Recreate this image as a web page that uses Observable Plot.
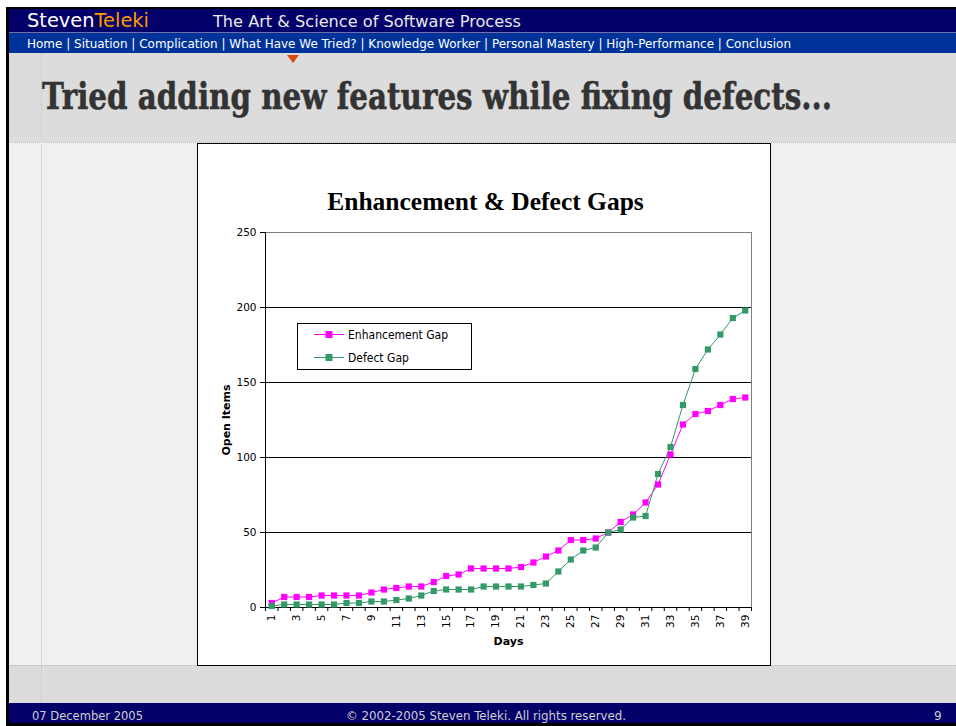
<!DOCTYPE html>
<html><head><meta charset="utf-8">
<script src="https://cdn.jsdelivr.net/npm/d3@7"></script>
<script src="https://cdn.jsdelivr.net/npm/@observablehq/plot@0.6"></script>
<style>
body{margin:0;width:956px;height:726px;background:#fff;position:relative;overflow:hidden;font-family:"DejaVu Sans",sans-serif}
.abs{position:absolute}
</style></head><body>
<div class="abs" style="left:6px;top:7px;width:950px;height:719px;background:#000"></div>
<div class="abs" style="left:9px;top:9px;width:947px;height:23px;background:#03006a"></div>
<div class="abs" style="left:9px;top:32px;width:947px;height:1px;background:#6f6fae"></div>
<div class="abs" style="left:9px;top:33px;width:947px;height:20px;background:#003399"></div>
<div class="abs" style="left:9px;top:53px;width:947px;height:89px;background:#dcdcdc"></div>
<div class="abs" style="left:9px;top:142px;width:947px;height:523px;background:#f0f0f0;border-top:1px dotted #b8b8b8;box-sizing:border-box"></div>
<div class="abs" style="left:9px;top:665px;width:947px;height:38px;background:#dcdcdc;border-top:1px dotted #b8b8b8;box-sizing:border-box"></div>
<div class="abs" style="left:9px;top:703px;width:947px;height:20px;background:#03006a"></div>
<div class="abs" style="left:41px;top:53px;width:0;height:650px;border-left:1px dotted #c4c4c4"></div>
<div class="abs" style="left:197px;top:143px;width:574px;height:523px;background:#fff;border:1px solid #000;box-sizing:border-box"></div>
<div id="chart" class="abs" style="left:197px;top:143px"></div>
<div id="legend" class="abs" style="left:297px;top:323px;width:175px;height:47px;background:#fff;border:1px solid #000;box-sizing:border-box"></div>
<svg class="abs" style="left:0;top:0" width="956" height="726">
  <text x="27" y="27" font-family="DejaVu Sans" font-size="19" textLength="122" lengthAdjust="spacingAndGlyphs"><tspan fill="#ffffff">Steven</tspan><tspan fill="#ff9900">Teleki</tspan></text>
  <text x="213" y="27" font-family="DejaVu Sans" font-size="16" fill="#e8e8e8" textLength="308" lengthAdjust="spacingAndGlyphs">The Art &amp; Science of Software Process</text>
  <text x="27" y="48" font-family="DejaVu Sans" font-size="12" fill="#ffffff" textLength="764" lengthAdjust="spacingAndGlyphs">Home | Situation | Complication | What Have We Tried? | Knowledge Worker | Personal Mastery | High-Performance | Conclusion</text>
  <polygon points="287,55 299,55 293,63" fill="#d94a10"/>
  <text x="42" y="109" font-family="DejaVu Serif" font-weight="bold" font-size="37" fill="#333333" stroke="#333333" stroke-width="0.6" textLength="790" lengthAdjust="spacingAndGlyphs">Tried adding new features while fixing defects...</text>
  <text x="32" y="720" font-family="DejaVu Sans" font-size="12" fill="#cfcfcf" textLength="111" lengthAdjust="spacingAndGlyphs">07 December 2005</text>
  <text x="346" y="720" font-family="DejaVu Sans" font-size="12" fill="#cfcfcf" textLength="280" lengthAdjust="spacingAndGlyphs">© 2002-2005 Steven Teleki. All rights reserved.</text>
  <text x="934" y="720" font-family="DejaVu Sans" font-size="12" fill="#cfcfcf">9</text>
</svg>
<script>
const chartTitle = "Enhancement & Defect Gaps";
const xLabel = "Days";
const yLabel = "Open Items";
const days = [1,2,3,4,5,6,7,8,9,10,11,12,13,14,15,16,17,18,19,20,21,22,23,24,25,26,27,28,29,30,31,32,33,34,35,36,37,38,39];
const xTickLabels = [1,3,5,7,9,11,13,15,17,19,21,23,25,27,29,31,33,35,37,39];
const yTicks = [0,50,100,150,200,250];
const seriesNames = ["Enhancement Gap","Defect Gap"];
const seriesColors = ["#ff00ff","#339966"];
const enhancementGap = [3,7,7,7,8,8,8,8,10,12,13,14,14,17,21,22,26,26,26,26,27,30,34,38,45,45,46,50,57,62,70,82,102,122,129,131,135,139,140];
const defectGap = [1,2,2,2,2,2,3,3,4,4,5,6,8,11,12,12,12,14,14,14,14,15,16,24,32,38,40,50,52,60,61,89,107,135,159,172,182,193,198];

const rows = [];
days.forEach((d,i)=>{
  rows.push({day:d, value:enhancementGap[i], series:seriesNames[0]});
  rows.push({day:d, value:defectGap[i], series:seriesNames[1]});
});
const boundaries = [days[0]-0.5, ...days.map(d=>d+0.5)];
const xDomain = [boundaries[0], boundaries[boundaries.length-1]];
const yMax = yTicks[yTicks.length-1];

const chart = Plot.plot({
  width: 574, height: 523,
  marginLeft: 68, marginRight: 20, marginTop: 89, marginBottom: 59,
  style: {fontFamily:"DejaVu Sans", fontSize:"10.5px", color:"#000", background:"transparent", overflow:"visible"},
  x: {type:"linear", domain: xDomain},
  y: {domain:[0, yMax]},
  color: {domain: seriesNames, range: seriesColors},
  marks: [
    Plot.ruleY(yTicks.slice(1,-1), {stroke:"#000"}),
    Plot.ruleY([yMax], {stroke:"#808080"}),
    Plot.ruleX([xDomain[1]], {stroke:"#808080"}),
    Plot.axisY({ticks: yTicks, tickSize:5, tickPadding:4, label:null}),
    Plot.axisX({ticks: boundaries, tickSize:4, tickFormat:()=>"", label:null}),
    Plot.axisX({ticks: xTickLabels, tickSize:0, tickPadding:7, tickRotate:-90, label:null}),
    Plot.ruleX([xDomain[0]], {stroke:"#000"}),
    Plot.ruleY([0], {stroke:"#000"}),
    Plot.line(rows, {x:"day", y:"value", z:"series", stroke:"series", strokeWidth:1}),
    Plot.dot(rows, {x:"day", y:"value", fill:"series", symbol:"square", r:3.5}),
    Plot.text([yLabel], {frameAnchor:"left", textAnchor:"middle", lineAnchor:"middle", rotate:-90, dx:-39, fontWeight:"bold", fontSize:11}),
    Plot.text([xLabel], {frameAnchor:"bottom", textAnchor:"middle", lineAnchor:"middle", dy:34, fontWeight:"bold", fontSize:11}),
    Plot.text([chartTitle], {frameAnchor:"top", textAnchor:"middle", lineAnchor:"middle", dy:-31, dx:-23, fontSize:25.5, fontWeight:"bold", fontFamily:"Liberation Serif"})
  ]
});
document.getElementById("chart").appendChild(chart);

const lg = document.getElementById("legend");
seriesNames.forEach((name,i)=>{
  const row = document.createElement("div");
  row.style.cssText = `position:absolute;left:15px;top:${3+i*23}px;height:15px;display:flex;align-items:center;font:12px 'DejaVu Sans';white-space:nowrap`;
  row.innerHTML = `<svg width="32" height="15" style="margin-right:3px"><line x1="1" x2="31" y1="7.5" y2="7.5" stroke="${seriesColors[i]}" stroke-width="1"/><rect x="12.5" y="4" width="7" height="7" fill="${seriesColors[i]}"/></svg><span style="display:inline-block;transform-origin:left;transform:scaleX(0.9)">${name}</span>`;
  lg.appendChild(row);
});
</script>
</body></html>
